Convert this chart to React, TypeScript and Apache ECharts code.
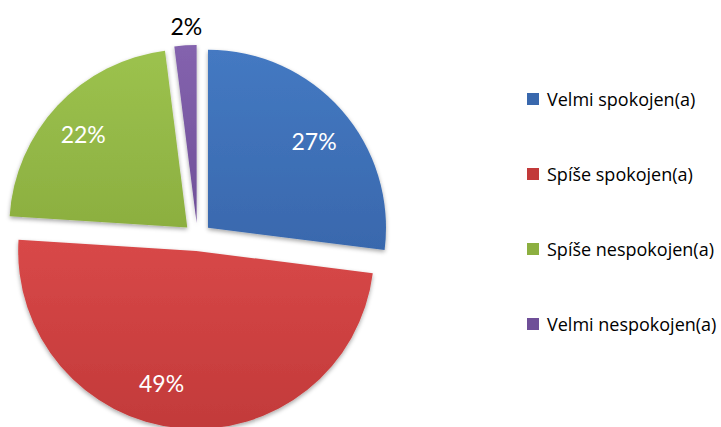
import React, { useEffect, useRef } from "react";
import * as echarts from "echarts";

const categories = ["Velmi spokojen(a)", "Spíše spokojen(a)", "Spíše nespokojen(a)", "Velmi nespokojen(a)"];
const values = [27, 49, 22, 2];
const colorsTop = ["#4479C2", "#D84848", "#9CC24E", "#8463AE"];
const colorsBottom = ["#3968AD", "#C23A3A", "#8CAF40", "#6F4F98"];
const labelOffsets: [number, number][] = [
  [37, -26],
  [-26, 40],
  [-37, -30],
  [22, -15],
];

export default function App() {
  const ref = useRef<HTMLDivElement>(null);
  useEffect(() => {
    document.body.style.margin = "0";
    const chart = echarts.init(ref.current!, null, { renderer: "svg" });
    const data = values.map((v, i) => ({
      name: categories[i],
      value: v,
      selected: true,
      itemStyle: {
        color: new echarts.graphic.LinearGradient(0, 0, 0, 1, [
          { offset: 0, color: colorsTop[i] },
          { offset: 1, color: colorsBottom[i] },
        ]),
      },
      label:
        i === 3
          ? { position: "outside", color: "#000" }
          : { position: "inside", color: "#fff" },
    }));
    chart.setOption({
      animation: false,
      legend: {
        orient: "vertical",
        left: 527,
        top: 90,
        padding: 0,
        itemWidth: 12,
        itemHeight: 12,
        itemGap: 57,
        icon: "rect",
        textStyle: { fontFamily: "Open Sans", fontSize: 18, color: "#000", lineHeight: 18, padding: [0, 0, 0, 3] },
        data: categories.map((c, i) => ({ name: c, itemStyle: { color: colorsBottom[i] } })),
      },
      series: [
        {
          type: "pie",
          center: [197.5, 237],
          radius: 178,
          startAngle: 90,
          clockwise: true,
          selectedMode: "multiple",
          selectedOffset: 14,
          avoidLabelOverlap: false,
          itemStyle: {
            shadowBlur: 4,
            shadowOffsetY: 2,
            shadowColor: "rgba(0,0,0,0.35)",
          },
          label: {
            formatter: "{c}%",
            fontFamily: "Lato",
            fontSize: 23,
          },
          labelLine: { show: false, length: 4, length2: 0 },
          labelLayout: (p: any) => {
            const o = labelOffsets[p.dataIndex];
            return { dx: o[0], dy: o[1] };
          },
          emphasis: { disabled: true },
          data,
        },
      ],
    });
    return () => chart.dispose();
  }, []);
  return <div ref={ref} style={{ width: 721, height: 427 }} />;
}
